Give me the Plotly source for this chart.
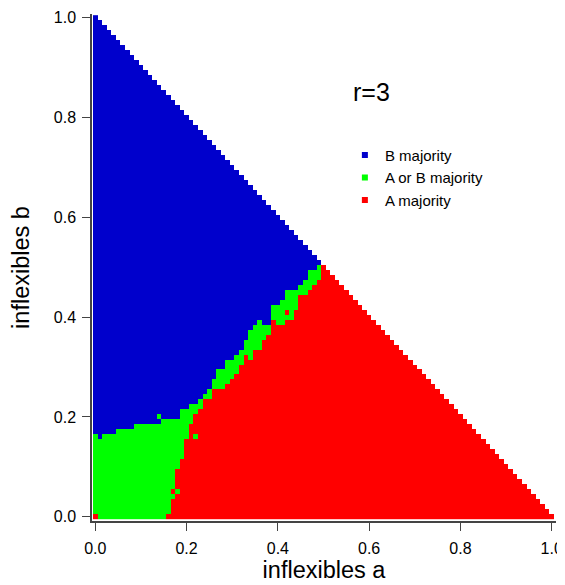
import plotly.graph_objects as go

# Grid of inflexible fractions (step 0.01)
grid_values = [round(k * 0.01, 2) for k in range(101)]

# Column index (a = col*0.01) -> first row index that is "B majority" (blue)
blue_start = [17, 16, 17, 17, 17, 18, 18, 18, 18, 19,
              19, 19, 19, 19, 21, 20, 20, 20, 20, 22,
              22, 23, 23, 24, 25, 26, 28, 30, 30, 32,
              32, 33, 34, 36, 38, 39, 40, 39, 39, 43,
              43, 44, 46, 46, 46, 47, 48, 50, 50, 51,
              51]

# Row index (b = row*0.01) -> first column index that is "A majority" (red)
red_start = [16, 17, 17, 17, 18, 19, 18, 18, 18, 18,
             19, 19, 20, 20, 20, 20, 21, 21, 21, 22,
             22, 23, 24, 24, 26, 26, 29, 30, 31, 32,
             32, 33, 35, 35, 37, 37, 38, 39, 39, 42,
             44, 44, 45, 45, 45, 47, 48, 49, 50, 50,
             50]

# Isolated cells: (column, row, class) 0=B, 1=A or B, 2=A
cell_overrides = [(0, 0, 2), (17, 5, 2), (14, 19, 0), (22, 16, 1),
                  (33, 32, 2), (39, 39, 2), (42, 41, 2)]

class_names = ["B majority", "A or B majority", "A majority"]
class_colors = ["#0000CC", "#00FF00", "#FF0000"]

n = len(grid_values)
z = [[None] * n for _ in range(n)]
for j in range(n):          # row (b)
    for i in range(n):      # column (a)
        if i + j > n - 1:
            continue
        if j < len(red_start) and i >= red_start[j]:
            v = 2
        elif i < len(blue_start) and j < blue_start[i]:
            v = 1
        elif i >= len(blue_start):
            v = 2
        else:
            v = 0
        z[j][i] = v
for (i, j, v) in cell_overrides:
    z[j][i] = v

colorscale = [[0.0, class_colors[0]], [1/3, class_colors[0]],
              [1/3, class_colors[1]], [2/3, class_colors[1]],
              [2/3, class_colors[2]], [1.0, class_colors[2]]]

fig = go.Figure()
fig.add_trace(go.Heatmap(x=grid_values, y=grid_values, z=z, zmin=-0.5, zmax=2.5,
                         colorscale=colorscale, showscale=False, hoverongaps=False))

for name, col in zip(class_names, class_colors):
    fig.add_trace(go.Scatter(x=[None], y=[None], mode="markers", name=name,
                             marker=dict(symbol="square", size=6, color=col),
                             showlegend=True))

font_family = "Liberation Sans, Arial, Helvetica, sans-serif"

# The page adds an 8px body margin, so the figure is sized to the remaining window.
fig.update_layout(
    width=557, height=577,
    margin=dict(l=84, r=9, t=6, b=64, autoexpand=False),
    plot_bgcolor="white", paper_bgcolor="white",
    font=dict(family=font_family, size=14, color="black"),
    showlegend=True,
    legend=dict(x=0.545, y=0.754, xanchor="left", yanchor="top",
                bgcolor="rgba(0,0,0,0)", borderwidth=0,
                font=dict(size=15), tracegroupgap=0),
    annotations=[dict(text="r=3", x=0.602, y=0.846, xref="paper", yref="paper",
                      xanchor="center", yanchor="middle",
                      showarrow=False, font=dict(size=25, color="black"))],
)

fig.update_xaxes(range=[-0.0072, 1.0094], showgrid=False, zeroline=False,
                 showline=True, linecolor="#444", linewidth=1.5,
                 ticks="outside", ticklen=8, tickcolor="#444", tickwidth=1.2,
                 tickvals=[0, 0.2, 0.4, 0.6, 0.8, 1.0], tickformat=".1f",
                 tickfont=dict(size=16), ticklabelstandoff=4, automargin=False,
                 title=dict(text="inflexibles a", font=dict(size=23.5), standoff=2))
fig.update_yaxes(range=[-0.0086, 1.0074], showgrid=False, zeroline=False,
                 showline=True, linecolor="#444", linewidth=1.5,
                 ticks="outside", ticklen=8, tickcolor="#444", tickwidth=1.2,
                 tickvals=[0, 0.2, 0.4, 0.6, 0.8, 1.0], tickformat=".1f",
                 tickfont=dict(size=16), ticklabelstandoff=3, automargin=False,
                 title=dict(text="inflexibles b", font=dict(size=23.5), standoff=18))

fig.write_html("out.html")
